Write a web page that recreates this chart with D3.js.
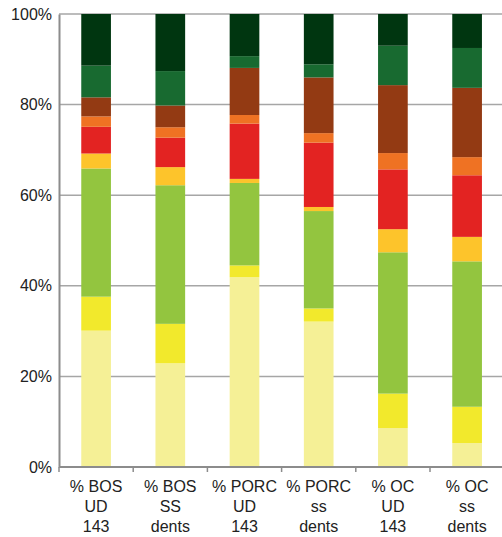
<!DOCTYPE html>
<html>
<head>
<meta charset="utf-8">
<script src="https://cdn.jsdelivr.net/npm/d3@7"></script>
<style>
body { margin:0; background:#fff; }
#canvas { width:502px; height:537px; }
text { font-family:"Liberation Sans", Arial, sans-serif; fill:#222; }
</style>
</head>
<body>
<div id="canvas"></div>
<script>
// categories, each label is three lines
var categories = [
    ['% BOS','UD','143'],
    ['% BOS','SS','dents'],
    ['% PORC','UD','143'],
    ['% PORC','ss','dents'],
    ['% OC','UD','143'],
    ['% OC','ss','dents']
];

// segment values per series, bottom to top (percent)
var paleYellow = [30.1, 22.9, 41.9, 32.1, 8.6, 5.3];
var yellow     = [7.5, 8.7, 2.6, 2.9, 7.6, 8.0];
var lightGreen = [28.3, 30.6, 18.2, 21.5, 31.2, 32.1];
var amber      = [3.3, 4.0, 0.9, 0.9, 5.1, 5.4];
var red        = [5.9, 6.5, 12.2, 14.2, 13.2, 13.6];
var orange     = [2.3, 2.3, 1.9, 2.1, 3.6, 4.0];
var brown      = [4.2, 4.8, 10.4, 12.3, 15.0, 15.3];
var midGreen   = [7.0, 7.6, 2.6, 2.9, 8.7, 8.8];
var darkGreen  = [11.4, 12.6, 9.3, 11.1, 7.0, 7.5];

var yTicks = [0, 20, 40, 60, 80, 100];

var seriesData = [paleYellow, yellow, lightGreen, amber, red, orange, brown, midGreen, darkGreen];
var colors = ['#f5f096','#f2e92c','#93c53f','#fdc42b','#e32322','#ef7223','#933a13','#186a30','#003610'];

var margin = {t:14,r:0,b:70,l:59};
var width = 502 - margin.l - margin.r,
    height = 537 - margin.t - margin.b;

var svg = d3.select('#canvas')
    .append('svg')
    .attr('width',502)
    .attr('height',537);

var plot = svg.append('g')
    .attr('transform','translate('+margin.l+','+margin.t+')');

var x = d3.scaleBand()
    .domain(d3.range(categories.length))
    .range([0, 74.2*categories.length])
    .paddingInner(0.6)
    .paddingOuter(0.3);

var xStep = d3.scaleBand()
    .domain(d3.range(categories.length))
    .range([0, 74.2*categories.length]);

var y = d3.scaleLinear().domain([0,100]).range([height,0]);

// gridlines
plot.selectAll('.grid')
    .data(yTicks.slice(1))
    .enter()
    .append('line')
    .attr('x1',0)
    .attr('x2',width)
    .attr('y1',function(d){return y(d)})
    .attr('y2',function(d){return y(d)})
    .style('stroke','#a6a6a6')
    .style('stroke-width','1.5px');

// stack the series
var rows = categories.map(function(c,i){
    var r = {};
    seriesData.forEach(function(s,k){ r['s'+k] = s[i]; });
    return r;
});
var stack = d3.stack().keys(seriesData.map(function(s,k){return 's'+k}));
var layers = stack(rows);

plot.selectAll('.layer')
    .data(layers)
    .enter()
    .append('g')
    .style('fill',function(d,k){return colors[k]})
    .selectAll('rect')
    .data(function(d){return d})
    .enter()
    .append('rect')
    .attr('x',function(d,i){return x(i)})
    .attr('width',x.bandwidth())
    .attr('y',function(d){return y(d[1])})
    .attr('height',function(d){return y(d[0]) - y(d[1])});

// axes
var yAxis = d3.axisLeft(y)
    .tickValues(yTicks)
    .tickFormat(function(d){return d+'%'})
    .tickSize(0)
    .tickPadding(7);

var gy = plot.append('g').call(yAxis);
gy.select('.domain').style('stroke','#8c8c8c').style('stroke-width','2px');
gy.selectAll('text').style('font-size','16px').style('font-family','"Liberation Sans", Arial, sans-serif').style('fill','#222');

var gx = plot.append('g').attr('transform','translate(0,'+height+')');
gx.append('line')
    .attr('x1',0).attr('x2',width)
    .attr('y1',0).attr('y2',0)
    .style('stroke','#8c8c8c').style('stroke-width','2px');

gx.selectAll('.tick')
    .data(d3.range(categories.length+1))
    .enter()
    .append('line')
    .attr('x1',function(d){return d*xStep.step()})
    .attr('x2',function(d){return d*xStep.step()})
    .attr('y1',0).attr('y2',5)
    .style('stroke','#8c8c8c').style('stroke-width','1.5px');

var labels = gx.selectAll('.lab')
    .data(categories)
    .enter()
    .append('text')
    .attr('text-anchor','middle')
    .style('font-size','16px')
    .attr('transform',function(d,i){return 'translate('+(xStep(i)+xStep.bandwidth()/2)+',0)'});

labels.selectAll('tspan')
    .data(function(d){return d})
    .enter()
    .append('tspan')
    .attr('x',0)
    .attr('y',function(d,j){return 25 + j*20})
    .text(function(d){return d});
</script>
</body>
</html>
